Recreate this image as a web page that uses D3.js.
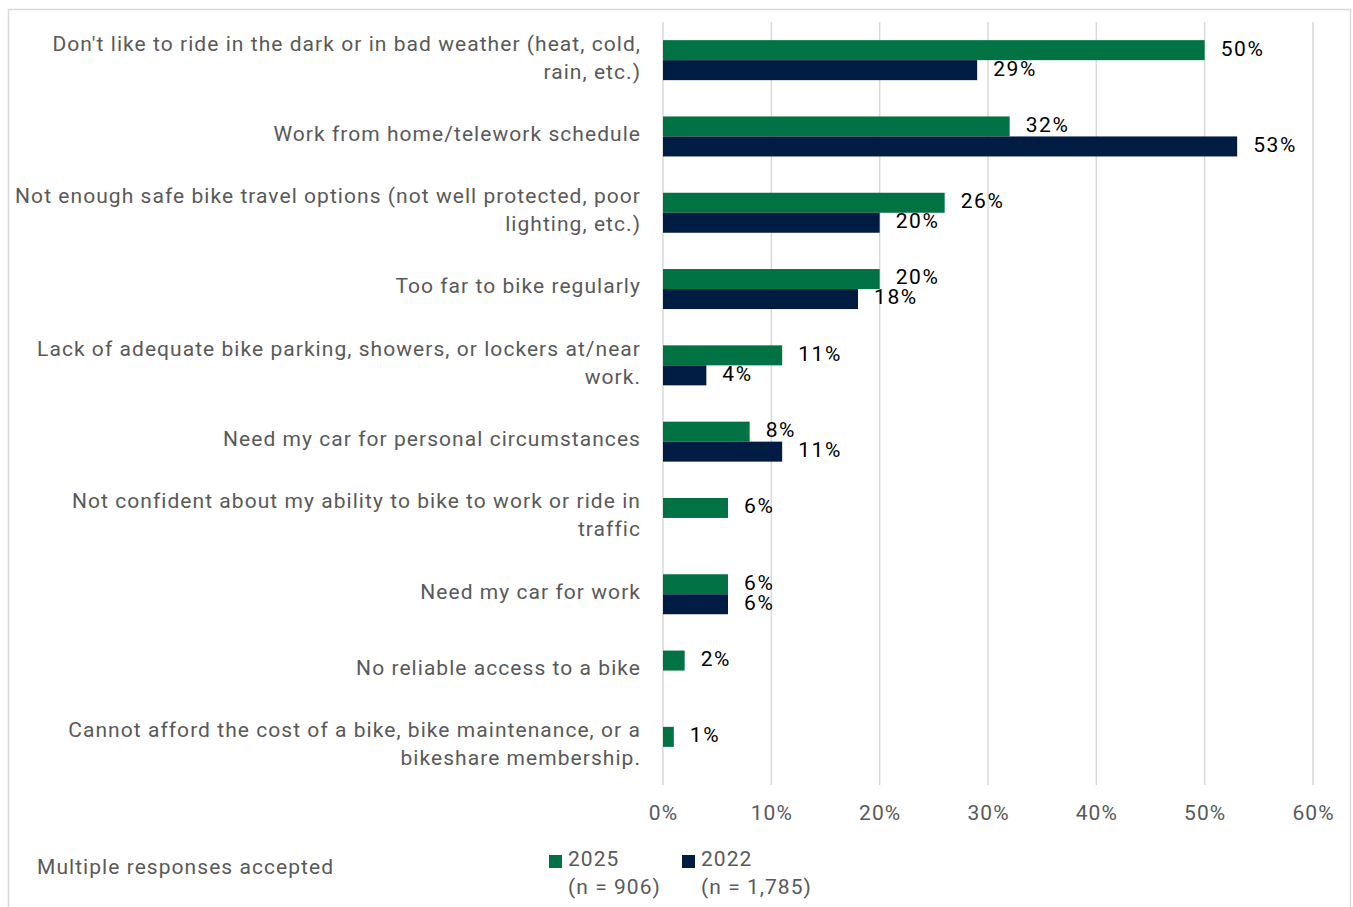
<!DOCTYPE html>
<html>
<head>
<meta charset="utf-8">
<script src="https://cdn.jsdelivr.net/npm/d3@7"></script>
<style>
  html, body { margin: 0; padding: 0; background: #fff; }
  svg { display: block; }
  text { font-family: Roboto, "Noto Sans", sans-serif; }
</style>
</head>
<body>
<svg id="chart" width="1353" height="907"></svg>
<script>
// Reasons for not biking more often, by survey year
const categories = [
  "Don't like to ride in the dark or in bad weather (heat, cold,\nrain, etc.)",
  "Work from home/telework schedule",
  "Not enough safe bike travel options (not well protected, poor\nlighting, etc.)",
  "Too far to bike regularly",
  "Lack of adequate bike parking, showers, or lockers at/near\nwork.",
  "Need my car for personal circumstances",
  "Not confident about my ability to bike to work or ride in\ntraffic",
  "Need my car for work",
  "No reliable access to a bike",
  "Cannot afford the cost of a bike, bike maintenance, or a\nbikeshare membership."
];
const values2025 = [50, 32, 26, 20, 11, 8, 6, 6, 2, 1];
const values2022 = [29, 53, 20, 18, 4, 11, null, 6, null, null];
const seriesNames = ["2025", "2022"];
const seriesNotes = ["(n = 906)", "(n = 1,785)"];
const seriesColors = ["#007244", "#001c42"];
const xTicks = [0, 10, 20, 30, 40, 50, 60];
const footnote = "Multiple responses accepted";

const svg = d3.select("#chart");
const FS = 21, LS = "1.05px";

// outer frame
svg.append("rect")
  .attr("x", 8.5).attr("y", 9.5)
  .attr("width", 1342).attr("height", 910)
  .attr("fill", "#fff").attr("stroke", "#d9d9d9").attr("stroke-width", 1.5);

const x = d3.scaleLinear().domain([0, 60]).range([663, 1313]);
const y = d3.scaleBand().domain(categories).range([22, 785]).padding(0);
const ySeries = d3.scaleBand().domain(seriesNames).range([0, 40]).padding(0);

// vertical gridlines
svg.append("g").selectAll("line")
  .data(xTicks).join("line")
  .attr("x1", d => x(d)).attr("x2", d => x(d))
  .attr("y1", 22).attr("y2", 785)
  .attr("stroke", "#d9d9d9").attr("stroke-width", 1.5);

// x axis tick labels
const xAxis = d3.axisBottom(x).tickValues(xTicks).tickSize(0).tickFormat(d => d + "%");
const gx = svg.append("g").attr("transform", "translate(0,800)").call(xAxis);
gx.select(".domain").remove();
gx.selectAll("text")
  .attr("font-size", FS).attr("fill", "#595959")
  .attr("letter-spacing", LS).attr("dy", "0.71em").attr("y", 5);

// category labels (right-aligned, wrapped)
const gy = svg.append("g");
categories.forEach(c => {
  const lines = c.split("\n");
  const cy = y(c) + y.bandwidth() / 2 - 3;
  const t = gy.append("text")
    .attr("text-anchor", "end")
    .attr("font-size", FS).attr("fill", "#595959")
    .attr("letter-spacing", LS);
  lines.forEach((ln, i) => {
    t.append("tspan")
      .attr("x", 641)
      .attr("y", cy - (lines.length - 1) * 14 + i * 28)
      .attr("dy", "0.35em")
      .text(ln);
  });
});

// bars and value labels
const series = [values2025, values2022];
series.forEach((vals, si) => {
  const name = seriesNames[si];
  const rows = categories.map((c, i) => ({ c, v: vals[i] })).filter(d => d.v != null);
  const g = svg.append("g");
  g.selectAll("rect").data(rows).join("rect")
    .attr("x", x(0))
    .attr("y", d => y(d.c) + y.bandwidth() / 2 - 20 + ySeries(name))
    .attr("width", d => x(d.v) - x(0))
    .attr("height", ySeries.bandwidth())
    .attr("fill", seriesColors[si]);
  g.selectAll("text").data(rows).join("text")
    .attr("x", d => x(d.v) + 16)
    .attr("y", d => y(d.c) + y.bandwidth() / 2 - 20 + ySeries(name) + ySeries.bandwidth() / 2 - 2)
    .attr("dy", "0.35em")
    .attr("font-size", FS).attr("fill", "#000")
    .attr("letter-spacing", "1.6px")
    .text(d => d.v + "%");
});

// footnote
svg.append("text")
  .attr("x", 37).attr("y", 867).attr("dy", "0.35em")
  .attr("font-size", FS).attr("fill", "#595959")
  .attr("letter-spacing", LS)
  .text(footnote);

// legend
const legendX = [549, 682];
seriesNames.forEach((name, i) => {
  const lg = svg.append("g").attr("transform", `translate(${legendX[i]},0)`);
  lg.append("rect").attr("x", 0).attr("y", 855).attr("width", 13).attr("height", 13)
    .attr("fill", seriesColors[i]);
  lg.append("text").attr("x", 19).attr("y", 859).attr("dy", "0.35em")
    .attr("font-size", FS).attr("fill", "#595959").attr("letter-spacing", LS)
    .text(name);
  lg.append("text").attr("x", 19).attr("y", 887).attr("dy", "0.35em")
    .attr("font-size", FS).attr("fill", "#595959").attr("letter-spacing", LS)
    .text(seriesNotes[i]);
});
</script>
</body>
</html>
